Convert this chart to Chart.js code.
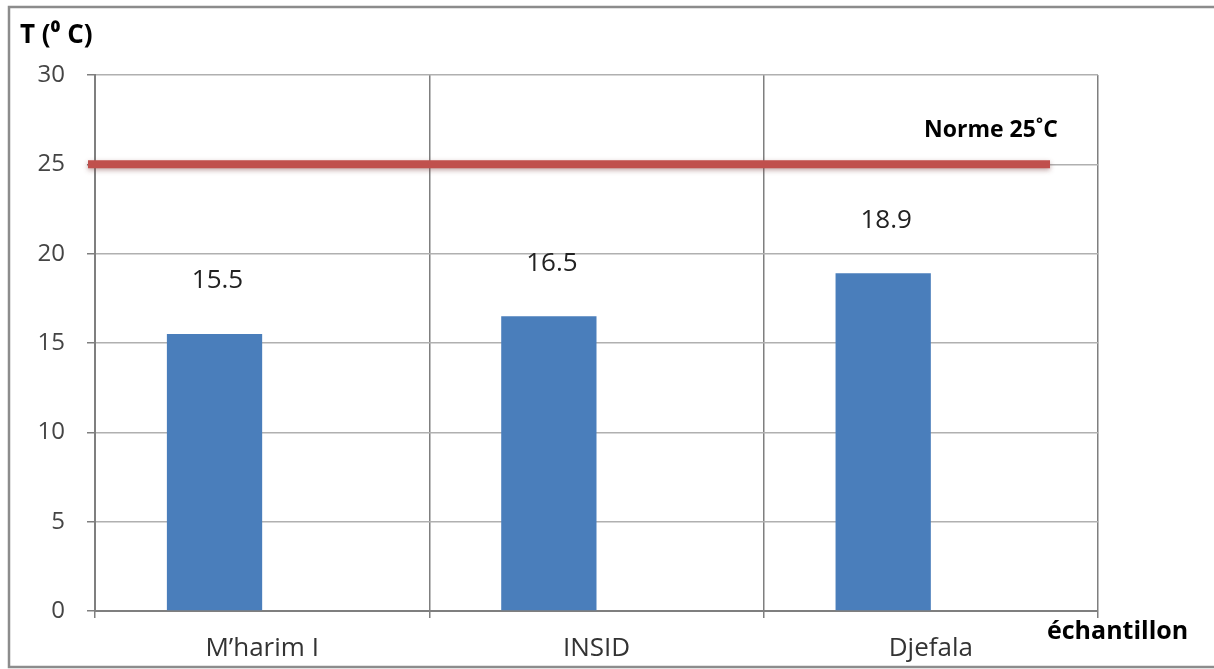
<!DOCTYPE html>
<html>
<head>
<meta charset="utf-8">
<script src="https://cdn.jsdelivr.net/npm/chart.js@4/dist/chart.umd.min.js"></script>
<style>
  html, body { margin: 0; padding: 0; background: #fff; }
  #wrap { width: 1214px; height: 669px; position: relative; }
</style>
</head>
<body>
<div id="wrap"><canvas id="c" width="1214" height="669"></canvas></div>
<script>
// Sample sites and measured water temperature (°C)
const categories = ["M\u2019harim I", "INSID", "Djefala"];
const temperatures = [15.5, 16.5, 18.9];
const yTicks = [0, 5, 10, 15, 20, 25, 30];
const normValue = 25;
const normLabel = "Norme 25\u02DAC";
const yTitle = "T (\u2070 C)";
const xTitle = "\u00E9chantillon";

const FONT = "'Open Sans', Lato, sans-serif";

// Frame, axis titles, the norm line and value labels
const decorations = {
  id: "decorations",
  beforeDraw(chart) {
    const ctx = chart.ctx;
    ctx.save();
    ctx.fillStyle = "#fff";
    ctx.fillRect(0, 0, chart.width, chart.height);
    ctx.strokeStyle = "#8c8c8c";
    ctx.lineWidth = 2.5;
    ctx.strokeRect(9, 7, chart.width + 20, chart.height - 9);
    ctx.restore();
  },
  afterDatasetsDraw(chart) {
    const ctx = chart.ctx;
    const y = chart.scales.y;
    const area = chart.chartArea;
    ctx.save();

    // norm line
    const yn = y.getPixelForValue(normValue);
    ctx.shadowColor = "rgba(120,60,60,0.45)";
    ctx.shadowBlur = 5;
    ctx.shadowOffsetY = 2;
    ctx.strokeStyle = "#c0504d";
    ctx.lineWidth = 8;
    ctx.lineCap = "butt";
    ctx.beginPath();
    ctx.moveTo(area.left - 7, yn);
    ctx.lineTo(1050, yn);
    ctx.stroke();
    ctx.shadowColor = "transparent";

    ctx.fillStyle = "#000";
    ctx.font = "bold 23px " + FONT;
    ctx.textAlign = "right";
    ctx.textBaseline = "middle";
    ctx.fillText(normLabel, 1058, 130);

    // value labels above bars
    const meta = chart.getDatasetMeta(0);
    ctx.font = "26px " + FONT;
    ctx.fillStyle = "#222";
    ctx.textAlign = "center";
    meta.data.forEach((bar, i) => {
      ctx.fillText(String(temperatures[i]), bar.x + 3, bar.y - 53);
    });

    // axis titles
    ctx.fillStyle = "#000";
    ctx.font = "bold 26px " + FONT;
    ctx.textAlign = "left";
    ctx.fillText(yTitle, 20, 36);
    ctx.font = "bold 25px " + FONT;
    ctx.fillText(xTitle, 1047, 632);
    ctx.restore();
  }
};

new Chart(document.getElementById("c"), {
  type: "bar",
  data: {
    labels: categories,
    datasets: [
      {
        label: "T",
        data: temperatures,
        backgroundColor: "#4a7ebb",
        borderWidth: 0,
        barPercentage: 1,
        categoryPercentage: 0.57
      },
      {
        label: "norme",
        data: categories.map(() => null),
        backgroundColor: "transparent",
        barPercentage: 1,
        categoryPercentage: 0.57
      }
    ]
  },
  options: {
    responsive: false,
    animation: false,
    devicePixelRatio: 1,
    layout: { padding: { left: 0, top: 75, right: 116, bottom: 0 } },
    plugins: {
      legend: { display: false },
      tooltip: { enabled: false }
    },
    scales: {
      x: {
        offset: true,
        grid: {
          offset: true,
          color: "#7f7f7f",
          lineWidth: 1.5,
          drawTicks: true,
          tickLength: 7
        },
        border: { color: "#7f7f7f", width: 2 },
        ticks: {
          color: "#333",
          font: { family: FONT, size: 26 },
          padding: 15
        },
        afterFit(s) { s.height = 58; }
      },
      y: {
        min: 0,
        max: 30,
        afterBuildTicks(s) { s.ticks = yTicks.map(v => ({ value: v })); },
        grid: {
          color: "#b0b0b0",
          lineWidth: 1.5,
          tickLength: 8,
          tickColor: "#7f7f7f"
        },
        border: { color: "#7f7f7f", width: 2 },
        ticks: {
          color: "#444",
          font: { family: FONT, size: 24 },
          padding: 22
        },
        afterFit(s) { s.width = 95; }
      }
    }
  },
  plugins: [decorations]
});
</script>
</body>
</html>
